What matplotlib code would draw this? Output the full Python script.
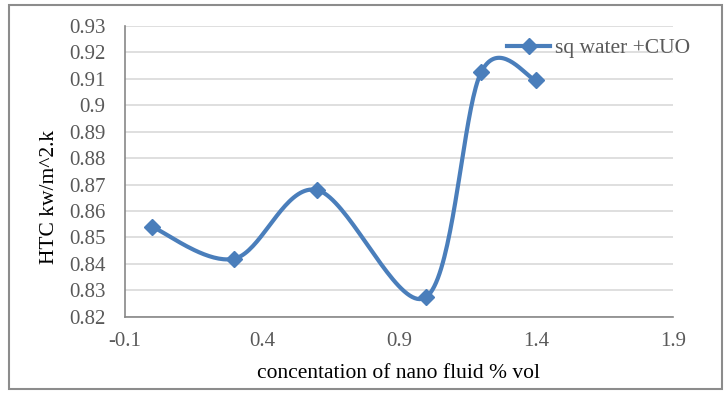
import numpy as np
import matplotlib
matplotlib.use("Agg")
import matplotlib.pyplot as plt
from matplotlib.patches import Rectangle

# Data
concentration = [0.0, 0.3, 0.6, 1.0, 1.2, 1.4]
htc = [0.854, 0.842, 0.868, 0.8275, 0.9125, 0.9095]
series_name = "sq water +CUO"
x_ticks = [-0.1, 0.4, 0.9, 1.4, 1.9]
y_ticks = [0.82, 0.83, 0.84, 0.85, 0.86, 0.87, 0.88, 0.89, 0.90, 0.91, 0.92, 0.93]
y_tick_labels = ["0.82", "0.83", "0.84", "0.85", "0.86", "0.87", "0.88", "0.89", "0.9", "0.91", "0.92", "0.93"]


def smooth_curve(x, y, n=40):
    """Catmull-Rom style cubic Bezier smoothing through every point."""
    x = np.asarray(x, float)
    y = np.asarray(y, float)
    px = np.concatenate([[x[0]], x, [x[-1]]])
    py = np.concatenate([[y[0]], y, [y[-1]]])
    xs, ys = [], []
    t = np.linspace(0, 1, n)
    for i in range(1, len(px) - 2):
        p0 = np.array([px[i], py[i]])
        p3 = np.array([px[i + 1], py[i + 1]])
        c1 = p0 + (np.array([px[i + 1], py[i + 1]]) - np.array([px[i - 1], py[i - 1]])) / 6
        c2 = p3 - (np.array([px[i + 2], py[i + 2]]) - np.array([px[i], py[i]])) / 6
        b = ((1 - t) ** 3)[:, None] * p0 + (3 * (1 - t) ** 2 * t)[:, None] * c1 \
            + (3 * (1 - t) * t ** 2)[:, None] * c2 + (t ** 3)[:, None] * p3
        xs.append(b[:, 0])
        ys.append(b[:, 1])
    return np.concatenate(xs), np.concatenate(ys)


plt.rcParams["font.family"] = ["Liberation Serif", "DejaVu Serif"]

fig = plt.figure(figsize=(7.26, 3.94), dpi=100)
ax = fig.add_axes([0.172, 0.196, 0.755, 0.738])

color = "#4a7ebb"
sx, sy = smooth_curve(concentration, htc)
ax.plot(sx, sy, color=color, lw=3.0, solid_capstyle="round", zorder=3)
ax.plot(concentration, htc, linestyle="none", marker="D", markersize=8.5,
        color=color, zorder=4)
ax.plot([], [], color=color, lw=3.0, marker="D", markersize=8.5, label=series_name)

ax.set_xlim(-0.1, 1.9)
ax.set_ylim(0.82, 0.93)
ax.set_xticks(x_ticks)
ax.set_xticklabels([f"{v:g}" for v in x_ticks])
ax.set_yticks(y_ticks)
ax.set_yticklabels(y_tick_labels)
ax.tick_params(axis="both", length=0, labelsize=15, colors="#595959")
ax.tick_params(axis="x", pad=11)
ax.tick_params(axis="y", pad=14)
ax.grid(axis="y", color="#d9d9d9", lw=1.2)
ax.set_axisbelow(True)
for side in ("top", "right"):
    ax.spines[side].set_visible(False)
for side in ("left", "bottom"):
    ax.spines[side].set_color("#878787")
    ax.spines[side].set_linewidth(1.2)

ax.set_ylabel("HTC kw/m^2.k", fontsize=15.5, color="black")
ax.set_xlabel("concentation of nano fluid % vol", fontsize=15.5, color="black")
ax.yaxis.set_label_coords(50 / 726, 0.5, transform=fig.transFigure)
ax.xaxis.set_label_coords(0.5 * (125 + 673) / 726, 1 - 373 / 394, transform=fig.transFigure)
ax.xaxis.label.set_va("center")
ax.yaxis.label.set_va("center")

leg = ax.legend(loc="upper right", bbox_to_anchor=(0.962, 0.925),
                bbox_transform=fig.transFigure, frameon=False, fontsize=15.5,
                handlelength=2.0, handletextpad=0.2, borderaxespad=0)
for t in leg.get_texts():
    t.set_color("#595959")

fig.patches.append(Rectangle((0.012, 0.012), 0.982, 0.975, transform=fig.transFigure,
                             fill=False, edgecolor="#8c8c8c", lw=1.5))

fig.savefig("out.png", dpi=100)
